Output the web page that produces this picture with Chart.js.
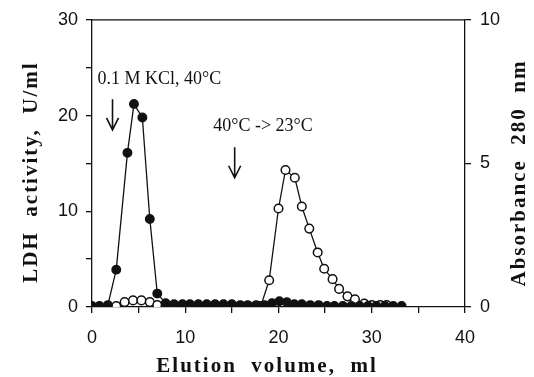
<!DOCTYPE html>
<html lang="en">
<head>
    <meta charset="UTF-8">
    <title>LDH elution profile</title>
    <script src="https://cdn.jsdelivr.net/npm/chart.js"></script>
    <style>
        html, body { margin: 0; padding: 0; background: #fff; }
        #wrap { width: 534px; height: 377px; }
    </style>
</head>
<body>
    <div id="wrap"><canvas id="elutionChart" width="534" height="377"></canvas></div>

    <script>
        // filled circles: LDH activity (U/ml), left axis
        const ldhVolume = [0, 0.8, 1.7, 2.6, 3.8, 4.5, 5.4, 6.2, 7.0, 7.9, 8.8, 9.7, 10.5, 11.4, 12.3, 13.2, 14.1, 15.0,
                           15.9, 16.7, 17.6, 18.5, 19.3, 20.1, 20.9, 21.7, 22.5, 23.4, 24.3, 25.2, 26.0, 26.9, 27.8,
                           28.7, 29.6, 30.5, 31.4, 32.3, 33.2];
        const ldhActivity = [0.1, 0.1, 0.2, 3.9, 16.1, 21.2, 19.8, 9.2, 1.4, 0.4, 0.3, 0.3, 0.3, 0.3, 0.3, 0.3, 0.3, 0.3,
                             0.2, 0.2, 0.2, 0.2, 0.4, 0.6, 0.5, 0.3, 0.3, 0.2, 0.2, 0.1, 0.1, 0.1, 0.1,
                             0.1, 0.1, 0.1, 0.1, 0.1, 0.1];

        // open circles: absorbance at 280 nm, right axis
        const a280Volume = [0.8, 1.7, 2.6, 3.5, 4.4, 5.3, 6.2, 7.0, 7.9, 10.5, 13.2, 15.9, 18.1, 19.0, 20.0, 20.75,
                            21.75, 22.5, 23.3, 24.2, 24.9, 25.8, 26.5, 27.4, 28.2, 29.2, 30.0, 30.9, 31.6];
        const a280Value = [0.0, 0.0, 0.03, 0.17, 0.23, 0.23, 0.17, 0.07, 0.03, 0.03, 0.03, 0.03, 0.03, 0.93, 3.43, 4.77,
                           4.5, 3.5, 2.73, 1.9, 1.33, 0.97, 0.63, 0.37, 0.27, 0.12, 0.07, 0.07, 0.07];

        const ink = '#111';
        const serif = "'Liberation Serif', 'Times New Roman', serif";
        const sans = "'Liberation Sans', Arial, sans-serif";

        function toPoints(xs, ys) {
            return xs.map((x, i) => ({ x: x, y: ys[i] }));
        }

        // frame top line, axis titles (spaced out like the print), arrows and notes
        const extras = {
            id: 'extras',
            afterDraw(chart) {
                const c = chart.ctx;
                const area = chart.chartArea;
                const xs = chart.scales.x, ys = chart.scales.y;
                c.save();
                c.strokeStyle = ink;
                c.fillStyle = ink;
                c.lineWidth = 1.3;
                c.beginPath();
                c.moveTo(area.left, area.top);
                c.lineTo(area.right, area.top);
                c.stroke();

                c.lineWidth = 1.6;
                function arrow(xv, y1, y2) {
                    const px = xs.getPixelForValue(xv);
                    const top = ys.getPixelForValue(y1), bot = ys.getPixelForValue(y2);
                    c.beginPath();
                    c.moveTo(px, top);
                    c.lineTo(px, bot);
                    c.moveTo(px - 6, bot - 12);
                    c.lineTo(px, bot);
                    c.lineTo(px + 6, bot - 12);
                    c.stroke();
                }
                arrow(2.2, 21.7, 18.5);
                arrow(15.3, 16.7, 13.5);

                c.font = '18px ' + serif;
                c.textBaseline = 'middle';
                c.textAlign = 'left';
                c.fillText('0.1 M KCl, 40°C', xs.getPixelForValue(0.6), ys.getPixelForValue(23.8));
                c.fillText('40°C -> 23°C', xs.getPixelForValue(13.0), ys.getPixelForValue(18.9));

                c.font = 'bold 21px ' + serif;
                c.textAlign = 'center';
                c.textBaseline = 'alphabetic';
                if ('letterSpacing' in c) c.letterSpacing = '2px';
                c.fillText('Elution  volume,  ml', 267, 372);

                c.save();
                c.translate(37, 172);
                c.rotate(-Math.PI / 2);
                c.fillText('LDH  activity,  U/ml', 0, 0);
                c.restore();

                c.translate(525, 173);
                c.rotate(-Math.PI / 2);
                c.fillText('Absorbance  280  nm', 0, 0);
                c.restore();
            }
        };

        const ctx = document.getElementById('elutionChart').getContext('2d');
        const elutionChart = new Chart(ctx, {
            type: 'line',
            data: {
                datasets: [{
                    label: 'LDH activity',
                    data: toPoints(ldhVolume, ldhActivity),
                    yAxisID: 'y',
                    borderColor: ink,
                    borderWidth: 1.3,
                    backgroundColor: ink,
                    pointBackgroundColor: ink,
                    pointBorderColor: ink,
                    pointRadius: 4.3,
                    tension: 0
                }, {
                    label: 'Absorbance 280 nm',
                    data: toPoints(a280Volume, a280Value),
                    yAxisID: 'y1',
                    borderColor: ink,
                    borderWidth: 1.3,
                    pointBackgroundColor: '#fff',
                    pointBorderColor: ink,
                    pointBorderWidth: 1.5,
                    pointRadius: 4.3,
                    tension: 0
                }]
            },
            options: {
                responsive: false,
                animation: false,
                layout: { padding: { top: 18, left: 0, right: 0, bottom: 0 } },
                plugins: { legend: { display: false }, tooltip: { enabled: false } },
                scales: {
                    x: {
                        type: 'linear',
                        min: 0, max: 40,
                        afterFit: s => { s.height = 70; },
                        border: { color: ink, width: 1.3 },
                        grid: { drawOnChartArea: false, color: ink, tickLength: 6, lineWidth: 1.3 },
                        ticks: {
                            stepSize: 5, autoSkip: false, maxRotation: 0, padding: 14,
                            color: ink, font: { family: sans, size: 18 },
                            callback: v => (v % 10 === 0 ? v : '')
                        }
                    },
                    y: {
                        position: 'left',
                        min: 0, max: 30,
                        afterFit: s => { s.width = 92; },
                        border: { color: ink, width: 1.3 },
                        grid: { drawOnChartArea: false, color: ink, tickLength: 6, lineWidth: 1.3 },
                        ticks: {
                            stepSize: 5, autoSkip: false, padding: 8,
                            color: ink, font: { family: sans, size: 18 },
                            callback: v => (v % 10 === 0 ? v : '')
                        }
                    },
                    y1: {
                        position: 'right',
                        min: 0, max: 10,
                        afterFit: s => { s.width = 69; },
                        border: { color: ink, width: 1.3 },
                        grid: { drawOnChartArea: false, color: ink, tickLength: 6, lineWidth: 1.3 },
                        ticks: {
                            stepSize: 5, autoSkip: false, padding: 9,
                            color: ink, font: { family: sans, size: 18 }
                        }
                    }
                }
            },
            plugins: [extras]
        });
    </script>
</body>
</html>
